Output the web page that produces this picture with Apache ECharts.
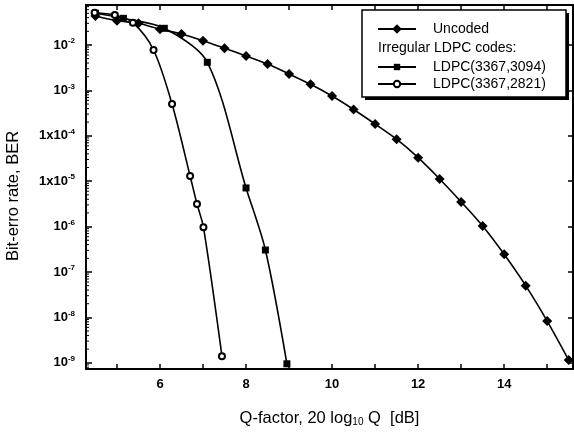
<!DOCTYPE html>
<html><head><meta charset="utf-8">
<script src="https://cdn.jsdelivr.net/npm/echarts@6/dist/echarts.min.js"></script>
<style>html,body{margin:0;padding:0;background:#fff}#c{width:574px;height:434px}</style>
</head><body><div id="c"></div>
<script>
// ---- data ----
const uncodedQ   = [4.5, 5.0, 5.5, 6.0, 6.5, 7.0, 7.5, 8.0, 8.5, 9.0, 9.5, 10.0, 10.5, 11.0, 11.5, 12.0, 12.5, 13.0, 13.5, 14.0, 14.5, 15.0, 15.5];
const uncodedBER = [0.0437, 0.0343, 0.030, 0.0222, 0.0175, 0.0124, 0.00846, 0.00573, 0.00381, 0.0023, 0.00136, 7.5e-4, 3.8e-4, 1.82e-4, 8.4e-5, 3.3e-5, 1.12e-5, 3.5e-6, 1.03e-6, 2.45e-7, 5.0e-8, 8.3e-9, 1.15e-9];
const ldpc3094Q   = [4.5, 5.15, 6.1, 7.1, 8.0, 8.45, 8.95];
const ldpc3094BER = [0.05, 0.0387, 0.0233, 0.00416, 7.1e-6, 3.05e-7, 9.5e-10];
const ldpc2821Q   = [4.48, 4.95, 5.37, 5.85, 6.28, 6.7, 6.86, 7.01, 7.44];
const ldpc2821BER = [0.0514, 0.0458, 0.031, 0.00776, 5.0e-4, 1.3e-5, 3.15e-6, 9.7e-7, 1.4e-9];
const seriesNames = ['Uncoded', 'LDPC(3367,3094)', 'LDPC(3367,2821)'];
const yTickExps    = [-9, -8, -7, -6, -5, -4, -3, -2];
const yTickPrefix  = ['', '', '', '', '1x', '1x', '', ''];
const xLabelTicks  = [6, 8, 10, 12, 14];

const FONT = 'Liberation Sans, Arial, Helvetica, sans-serif';
const xMin = 4.28, xMax = 15.6;
const yMin = -9.137, yMax = -1.119;

function toLog(qs, bers) { return qs.map((q, i) => [q, Math.log10(bers[i])]); }

const minorData = [];
for (let d = -10; d <= -2; d++) {
  for (let k = 2; k <= 9; k++) {
    const v = d + Math.log10(k);
    if (v > yMin && v < yMax) minorData.push([xMin, v]);
  }
}

const axisLineStyle = { color: '#000', width: 2 };
const chart = echarts.init(document.getElementById('c'), null, { renderer: 'canvas' });
chart.setOption({
  animation: false,
  backgroundColor: '#fff',
  textStyle: { fontFamily: FONT },
  grid: { left: 86, right: 1, top: 5, bottom: 65, containLabel: false, outerBoundsMode: 'none' },
  xAxis: [{
    type: 'value', position: 'bottom', min: xMin, max: xMax, minInterval: 1, maxInterval: 1,
    axisLine: { lineStyle: axisLineStyle },
    axisTick: { inside: true, length: 5, lineStyle: { color: '#000', width: 1.5 } },
    splitLine: { show: false },
    axisLabel: {
      color: '#000', fontSize: 13, fontWeight: 'bold', fontFamily: FONT, margin: 9,
      formatter: v => {
        const r = Math.round(v);
        return (Math.abs(v - r) < 1e-6 && xLabelTicks.indexOf(r) >= 0) ? String(r) : '';
      }
    },
    name: '{t|Q-factor, 20 log}{s|10}{t| Q  [dB]}',
    nameLocation: 'middle', nameGap: 40,
    nameTextStyle: {
      rich: {
        t: { fontSize: 16.5, color: '#000', fontFamily: FONT },
        s: { fontSize: 10, color: '#000', fontFamily: FONT, padding: [8, 0, 0, 0] }
      }
    }
  }, {
    type: 'value', position: 'top', min: xMin, max: xMax, minInterval: 1, maxInterval: 1,
    axisLine: { lineStyle: axisLineStyle },
    axisTick: { inside: true, length: 5, lineStyle: { color: '#000', width: 1.5 } },
    axisLabel: { show: false }, splitLine: { show: false }
  }],
  yAxis: [{
    type: 'value', position: 'left', min: yMin, max: yMax, minInterval: 1, maxInterval: 1,
    axisLine: { lineStyle: axisLineStyle },
    axisTick: { inside: true, length: 6, lineStyle: { color: '#000', width: 1.5 } },
    splitLine: { show: false },
    axisLabel: {
      margin: 11,
      formatter: v => {
        const r = Math.round(v);
        if (Math.abs(v - r) > 1e-6) return '';
        const i = yTickExps.indexOf(r);
        if (i < 0) return '';
        return '{b|' + yTickPrefix[i] + '10}{s|' + r + '}';
      },
      rich: {
        b: { fontSize: 13, fontWeight: 'bold', color: '#000', fontFamily: FONT },
        s: { fontSize: 8, fontWeight: 'bold', color: '#000', fontFamily: FONT, padding: [0, 0, 8, 0] }
      }
    },
    name: 'Bit-erro rate, BER', nameLocation: 'middle', nameGap: 64,
    nameTextStyle: { fontSize: 16.5, color: '#000', fontFamily: FONT, padding: [0, 18, 0, 0] }
  }, {
    type: 'value', position: 'right', min: yMin, max: yMax, minInterval: 1, maxInterval: 1,
    axisLine: { lineStyle: axisLineStyle },
    axisTick: { inside: true, length: 5, lineStyle: { color: '#000', width: 1.5 } },
    axisLabel: { show: false }, splitLine: { show: false }
  }],
  legend: [{
    data: [seriesNames[0]], orient: 'vertical', left: 377, top: 22, padding: 0,
    itemWidth: 38, itemHeight: 12, z: 20,
    textStyle: { fontSize: 14, color: '#000', fontFamily: FONT, padding: [0, 0, 0, 12] }
  }, {
    data: [seriesNames[1], seriesNames[2]], orient: 'vertical', left: 377, top: 60, padding: 0,
    itemWidth: 38, itemHeight: 8, itemGap: 3, z: 20,
    textStyle: { fontSize: 14, color: '#000', fontFamily: FONT, padding: [0, 0, 0, 12] }
  }],
  graphic: [
    { type: 'rect', z: 10, shape: { x: 365, y: 13, width: 204, height: 87 }, style: { fill: '#000' } },
    { type: 'rect', z: 11, shape: { x: 362, y: 10, width: 204, height: 87 }, style: { fill: '#fff', stroke: '#000', lineWidth: 1.5 } },
    { type: 'text', z: 12, x: 378, y: 48, style: { text: 'Irregular LDPC codes:', fontSize: 14, fill: '#000', fontFamily: FONT, verticalAlign: 'middle' } }
  ],
  series: [{
    name: seriesNames[0], type: 'line', data: toLog(uncodedQ, uncodedBER), smooth: 0.3,
    symbol: 'diamond', symbolSize: 10, lineStyle: { color: '#000', width: 1.6 },
    itemStyle: { color: '#000' }
  }, {
    name: seriesNames[1], type: 'line', data: toLog(ldpc3094Q, ldpc3094BER), smooth: 0.3,
    symbol: 'rect', symbolSize: 7, lineStyle: { color: '#000', width: 1.6 },
    itemStyle: { color: '#000' }
  }, {
    name: seriesNames[2], type: 'line', data: toLog(ldpc2821Q, ldpc2821BER), smooth: 0.3,
    symbol: 'emptyCircle', symbolSize: 6, lineStyle: { color: '#000', width: 1.6 },
    itemStyle: { color: '#000', borderColor: '#000', borderWidth: 1.2 }
  }, {
    type: 'custom', name: 'minorTicks', data: minorData, silent: true, z: 3,
    renderItem: (params, api) => {
      const p = api.coord([api.value(0), api.value(1)]);
      return { type: 'line', shape: { x1: p[0], y1: p[1], x2: p[0] + 3, y2: p[1] }, style: { stroke: '#000', lineWidth: 1 } };
    }
  }]
});
</script>
</body></html>
